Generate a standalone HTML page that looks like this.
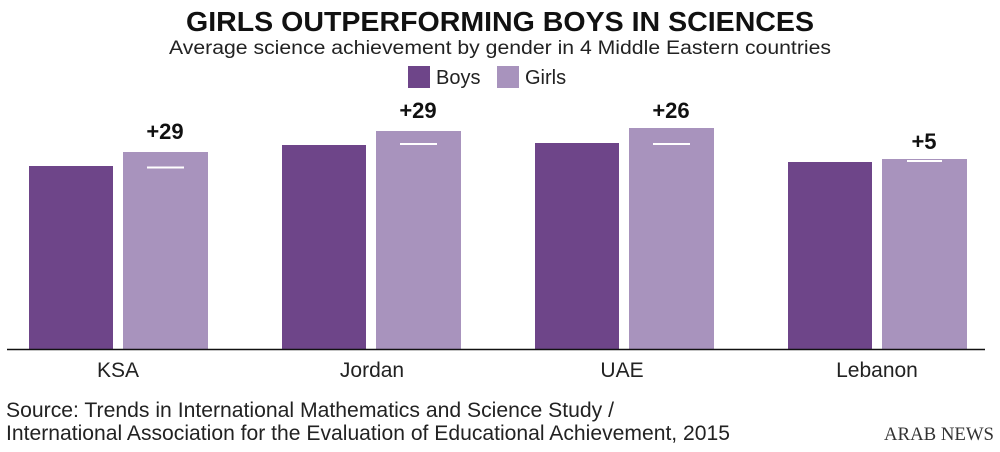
<!DOCTYPE html>
<html><head><meta charset="utf-8"><style>
body{margin:0;background:#fff;width:1000px;height:447px;overflow:hidden;font-family:"Liberation Sans",sans-serif;}
</style></head><body>
<svg width="1000" height="447" xmlns="http://www.w3.org/2000/svg" font-family="Liberation Sans, sans-serif">
<text x="500" y="31" text-anchor="middle" font-size="28" font-weight="bold" fill="#111" textLength="628" lengthAdjust="spacingAndGlyphs">GIRLS OUTPERFORMING BOYS IN SCIENCES</text>
<text x="500" y="54" text-anchor="middle" font-size="19" fill="#222" textLength="662" lengthAdjust="spacingAndGlyphs">Average science achievement by gender in 4 Middle Eastern countries</text>
<rect x="408" y="66" width="22" height="22" fill="#6e4589"/>
<text x="436" y="84" font-size="20" fill="#222">Boys</text>
<rect x="497" y="66" width="22" height="22" fill="#a893bd"/>
<text x="525" y="84" font-size="20" fill="#222">Girls</text>
<g fill="#6e4589">
<rect x="29" y="166" width="84" height="183"/>
<rect x="282" y="145" width="84" height="204"/>
<rect x="535" y="143" width="84" height="206"/>
<rect x="788" y="162" width="84" height="187"/>
</g>
<g fill="#a893bd">
<rect x="123" y="152" width="85" height="197"/>
<rect x="376" y="131" width="85" height="218"/>
<rect x="629" y="128" width="85" height="221"/>
<rect x="882" y="159" width="85" height="190"/>
</g>
<g stroke="#fff" stroke-width="2">
<line x1="147" y1="167.5" x2="184" y2="167.5"/>
<line x1="400" y1="144" x2="437" y2="144"/>
<line x1="653" y1="144" x2="690" y2="144"/>
<line x1="907" y1="161" x2="942" y2="161"/>
</g>
<g font-size="22" font-weight="bold" fill="#111" text-anchor="middle">
<text x="165" y="139">+29</text>
<text x="418" y="118">+29</text>
<text x="671" y="118">+26</text>
<text x="924" y="149">+5</text>
</g>
<line x1="7" y1="349.5" x2="985" y2="349.5" stroke="#111" stroke-width="1.5"/>
<g font-size="21" fill="#222" text-anchor="middle">
<text x="118" y="377">KSA</text>
<text x="372" y="377">Jordan</text>
<text x="622" y="377">UAE</text>
<text x="877" y="377">Lebanon</text>
</g>
<text x="6" y="417" font-size="21" fill="#222" textLength="608" lengthAdjust="spacingAndGlyphs">Source: Trends in International Mathematics and Science Study /</text>
<text x="6" y="440" font-size="21" fill="#222" textLength="724" lengthAdjust="spacingAndGlyphs">International Association for the Evaluation of Educational Achievement, 2015</text>
<text x="994" y="440" text-anchor="end" font-family="Liberation Serif, serif" font-size="19" fill="#333" textLength="110" lengthAdjust="spacingAndGlyphs">ARAB NEWS</text>
</svg>
</body></html>
